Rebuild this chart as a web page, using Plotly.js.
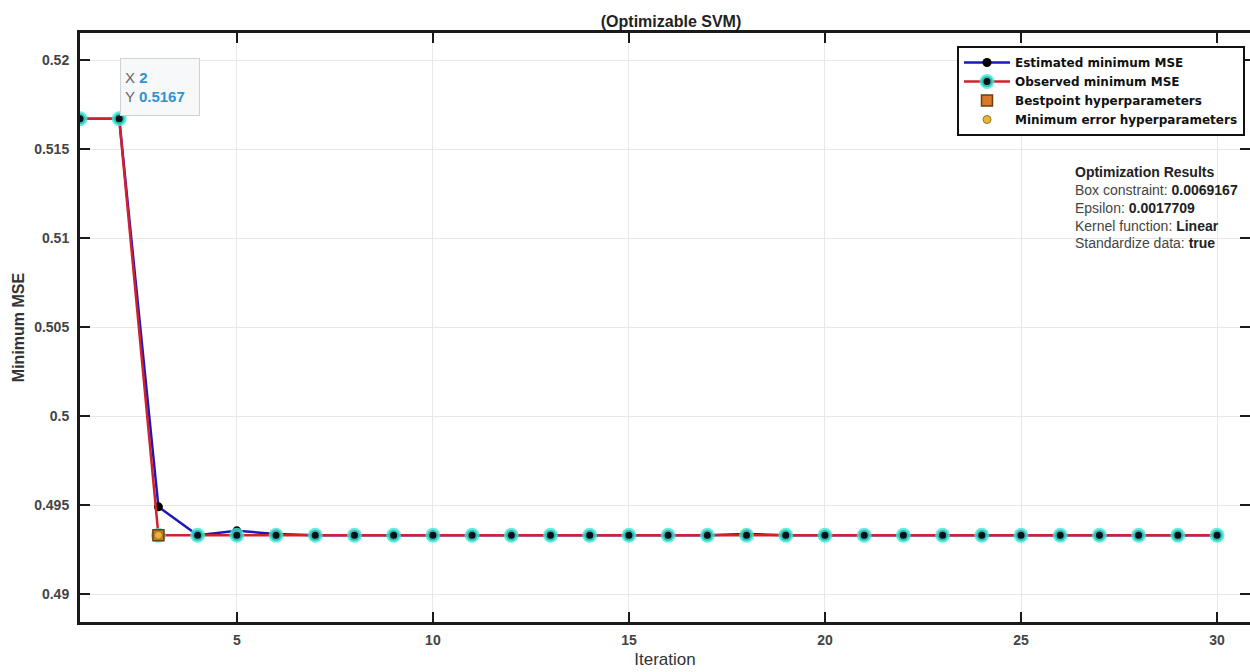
<!DOCTYPE html>
<html>
<head>
<meta charset="utf-8">
<script src="https://cdn.plot.ly/plotly-3.0.1.min.js"></script>
<style>html,body{margin:0;padding:0;background:#fff;}#chart{width:1250px;height:672px;}</style>
</head>
<body>
<div id="chart"></div>
<script>
// ---- data ----
const iterations = [1,2,3,4,5,6,7,8,9,10,11,12,13,14,15,16,17,18,19,20,21,22,23,24,25,26,27,28,29,30];
const estimatedMSE = [0.5167,0.5167,0.4949,0.4933,0.49355,0.49338,0.4933,0.4933,0.4933,0.4933,0.4933,0.4933,0.4933,0.4933,0.4933,0.4933,0.4933,0.49337,0.4933,0.4933,0.4933,0.4933,0.4933,0.4933,0.4933,0.4933,0.4933,0.4933,0.4933,0.4933];
const observedMSE = [0.5167,0.5167,0.4933,0.4933,0.4933,0.4933,0.4933,0.4933,0.4933,0.4933,0.4933,0.4933,0.4933,0.4933,0.4933,0.4933,0.4933,0.4933,0.4933,0.4933,0.4933,0.4933,0.4933,0.4933,0.4933,0.4933,0.4933,0.4933,0.4933,0.4933];
const bestIter = [3];
const bestMSE = [0.4933];
const minErrIter = [3];
const minErrMSE = [0.4933];
const seriesNames = ["Estimated minimum MSE","Observed minimum MSE","Bestpoint hyperparameters","Minimum error hyperparameters"];
const resultLines = [
  ["", "Optimization Results"],
  ["Box constraint: ", "0.0069167"],
  ["Epsilon: ", "0.0017709"],
  ["Kernel function: ", "Linear"],
  ["Standardize data: ", "true"]
];
const tipX = 2, tipY = 0.5167;
const xTicks = [5,10,15,20,25,30];
const yTicks = [0.49,0.495,0.5,0.505,0.51,0.515,0.52];
const yTickText = ["0.49","0.495","0.5","0.505","0.51","0.515","0.52"];

const FONT = "Liberation Sans, Arial, Helvetica, sans-serif";
const LEGFONT = "DejaVu Sans, Liberation Sans, Arial, sans-serif";

const traces = [
  {x: iterations, y: estimatedMSE, name: seriesNames[0], type: "scatter", mode: "lines+markers",
   line: {color: "#1a1ab8", width: 2.5},
   marker: {color: "#000000", size: 9}},
  {x: iterations, y: observedMSE, name: seriesNames[1], type: "scatter", mode: "lines+markers",
   line: {color: "#d2202e", width: 2.5},
   marker: {color: "#05101a", size: 11, line: {color: "rgba(60,235,215,0.8)", width: 4}}},
  {x: bestIter, y: bestMSE, name: seriesNames[2], type: "scatter", mode: "markers",
   marker: {symbol: "square", color: "#d9772a", size: 11, line: {color: "#6a4010", width: 1.5}}},
  {x: minErrIter, y: minErrMSE, name: seriesNames[3], type: "scatter", mode: "markers",
   marker: {symbol: "circle", color: "#eab43a", size: 8, line: {color: "#9a7420", width: 1}}}
];

const annotations = [];
const resY = [172,190,208,226,243];
resultLines.forEach((l, i) => {
  const txt = i === 0 ? "<b>" + l[1] + "</b>" :
    "<span style='color:#444'>" + l[0] + "</span><b>" + l[1] + "</b>";
  annotations.push({xref: "paper", yref: "paper", x: (1073 - 80) / 1170, y: (622 - resY[i]) / 589,
    xanchor: "left", yanchor: "middle", showarrow: false, align: "left", text: txt,
    font: {family: FONT, size: 14, color: "#222"}});
});
annotations.push({xref: "x", yref: "y", x: tipX, y: tipY, xanchor: "left", yanchor: "bottom",
  xshift: 1, yshift: 3, showarrow: false, align: "left",
  text: "<span style='color:#666'>X </span><b><span style='color:#2f93d0'>" + tipX + "</span></b><br><span style='color:#666'>Y </span><b><span style='color:#2f93d0'>" + tipY + "</span></b>",
  font: {family: FONT, size: 15}, bgcolor: "#f7f8fa", bordercolor: "#cfd3d8", borderwidth: 1,
  borderpad: 4, width: 70, height: 48});

const layout = {
  width: 1250, height: 672,
  margin: {l: 80, r: 0, t: 33, b: 50},
  paper_bgcolor: "#ffffff", plot_bgcolor: "#ffffff",
  showlegend: true,
  title: {text: "<b>(Optimizable SVM)</b>", font: {family: FONT, size: 16, color: "#222"},
    xref: "container", x: 671 / 1250, xanchor: "center", yref: "container", y: 1 - 21 / 672, yanchor: "middle"},
  xaxis: {range: [1, 30.84], tickvals: xTicks, ticktext: xTicks.map(String),
    ticks: "inside", ticklen: 10, tickwidth: 2.5, tickcolor: "#1a1a1a",
    showline: true, linecolor: "#1a1a1a", linewidth: 3, mirror: "allticks",
    showgrid: true, gridcolor: "#e8e8e8", gridwidth: 1, zeroline: false,
    ticklabelstandoff: 3,
    tickfont: {family: FONT, size: 14, color: "#444", weight: "bold"},
    title: {text: "Iteration", standoff: 7, font: {family: FONT, size: 17, color: "#333"}}},
  yaxis: {range: [0.48843, 0.52152], tickvals: yTicks, ticktext: yTickText,
    ticks: "inside", ticklen: 10, tickwidth: 2.5, tickcolor: "#1a1a1a",
    showline: true, linecolor: "#1a1a1a", linewidth: 3, mirror: "allticks",
    showgrid: true, gridcolor: "#e8e8e8", gridwidth: 1, zeroline: false,
    ticklabelstandoff: 5,
    tickfont: {family: FONT, size: 14, color: "#444", weight: "bold"},
    title: {text: "<b>Minimum MSE</b>", standoff: 6, font: {family: FONT, size: 16, color: "#333"}}},
  legend: {x: (1245 - 80) / 1170, xanchor: "right", y: (622 - 46) / 589, yanchor: "top",
    bgcolor: "#ffffff", bordercolor: "#111", borderwidth: 2, itemwidth: 46,
    tracegroupgap: 0,
    font: {family: LEGFONT, size: 12, color: "#111", weight: "bold"}},
  annotations: annotations
};

Plotly.newPlot("chart", traces, layout, {displayModeBar: false, staticPlot: true});
</script>
</body>
</html>
